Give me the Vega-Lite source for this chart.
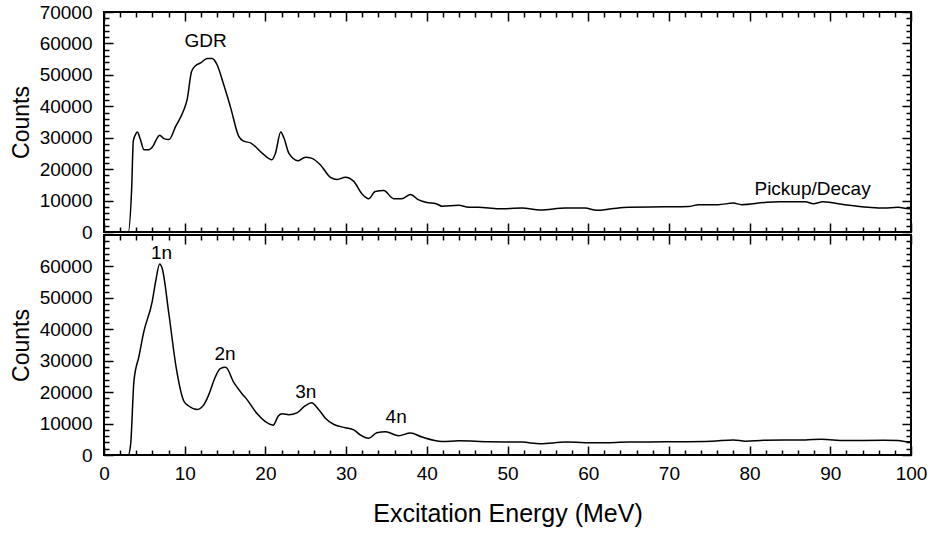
{
  "$schema": "https://vega.github.io/schema/vega-lite/v6.json",
  "autosize": "pad",
  "padding": {"left": 9, "top": 2, "right": 5, "bottom": 5},
  "spacing": 3,
  "bounds": "flush",
  "background": "white",
  "config": {
    "view": {"stroke": "black", "strokeWidth": 2},
    "axis": {
      "domain": false,
      "grid": false,
      "labelFlush": false,
      "labelOverlap": false,
      "tickColor": "black",
      "tickWidth": 1.5,
      "labelColor": "black",
      "labelFont": "Liberation Sans",
      "labelFontSize": 19,
      "titleFont": "Liberation Sans",
      "titleFontSize": 23,
      "titleFontWeight": "normal",
      "titleColor": "black"
    },
    "text": {"font": "Liberation Sans", "fontSize": 19, "color": "black"}
  },
  "datasets": {
    "top": [
      {"E": 0, "C": 0}, {"E": 3.0, "C": 0}, {"E": 3.43, "C": 14000}, {"E": 3.63, "C": 28900},
      {"E": 3.9, "C": 31000}, {"E": 4.13, "C": 31800}, {"E": 4.5, "C": 29500}, {"E": 4.95, "C": 26200},
      {"E": 5.57, "C": 26200}, {"E": 6.07, "C": 27300}, {"E": 6.5, "C": 29500}, {"E": 6.9, "C": 30800},
      {"E": 7.43, "C": 29700}, {"E": 8.05, "C": 29400}, {"E": 8.88, "C": 33600}, {"E": 9.9, "C": 38900},
      {"E": 10.3, "C": 42100}, {"E": 10.85, "C": 51100}, {"E": 11.35, "C": 52900}, {"E": 11.97, "C": 53800},
      {"E": 12.8, "C": 55200}, {"E": 13.4, "C": 55200}, {"E": 14.0, "C": 53300}, {"E": 14.83, "C": 46900},
      {"E": 15.7, "C": 39500}, {"E": 16.7, "C": 30400}, {"E": 17.3, "C": 28900}, {"E": 18.2, "C": 28300},
      {"E": 19.6, "C": 25100}, {"E": 20.8, "C": 23000}, {"E": 21.25, "C": 25100}, {"E": 21.9, "C": 31800},
      {"E": 22.3, "C": 29900}, {"E": 22.9, "C": 25100}, {"E": 24.06, "C": 22700}, {"E": 24.97, "C": 23800},
      {"E": 25.7, "C": 23500}, {"E": 26.8, "C": 21400}, {"E": 28.06, "C": 17400}, {"E": 28.9, "C": 16700},
      {"E": 29.9, "C": 17400}, {"E": 30.95, "C": 16100}, {"E": 31.98, "C": 12100}, {"E": 32.8, "C": 10600},
      {"E": 33.6, "C": 12900}, {"E": 34.67, "C": 13200}, {"E": 35.9, "C": 10600}, {"E": 36.9, "C": 10600},
      {"E": 37.97, "C": 11900}, {"E": 39.0, "C": 10200}, {"E": 40.0, "C": 9400}, {"E": 41.07, "C": 9100},
      {"E": 41.9, "C": 8200}, {"E": 43.95, "C": 8500}, {"E": 45.2, "C": 7900}, {"E": 46.4, "C": 7900},
      {"E": 48.9, "C": 7400}, {"E": 51.8, "C": 7600}, {"E": 54.06, "C": 7000}, {"E": 57.2, "C": 7600},
      {"E": 59.6, "C": 7600}, {"E": 61.07, "C": 6900}, {"E": 62.9, "C": 7400}, {"E": 65.0, "C": 7900},
      {"E": 69.5, "C": 8000}, {"E": 72.4, "C": 8100}, {"E": 73.7, "C": 8700}, {"E": 76.1, "C": 8700},
      {"E": 78.0, "C": 9200}, {"E": 79.0, "C": 8700}, {"E": 81.9, "C": 9400}, {"E": 83.6, "C": 9600},
      {"E": 86.9, "C": 9600}, {"E": 87.9, "C": 9000}, {"E": 89.1, "C": 9600}, {"E": 91.8, "C": 8700},
      {"E": 94.7, "C": 7900}, {"E": 96.6, "C": 7600}, {"E": 98.4, "C": 7900}, {"E": 99.7, "C": 7400},
      {"E": 100, "C": 7400}
    ],
    "bottom": [
      {"E": 0, "C": 0}, {"E": 3.0, "C": 0}, {"E": 3.3, "C": 3400}, {"E": 3.71, "C": 23500},
      {"E": 4.33, "C": 31400}, {"E": 4.95, "C": 39400}, {"E": 5.98, "C": 48900}, {"E": 6.4, "C": 55200},
      {"E": 6.9, "C": 60800}, {"E": 7.2, "C": 59500}, {"E": 8.05, "C": 44700}, {"E": 8.95, "C": 27700},
      {"E": 9.9, "C": 17100}, {"E": 10.5, "C": 15600}, {"E": 11.55, "C": 14500}, {"E": 12.4, "C": 16100},
      {"E": 13.0, "C": 19300}, {"E": 13.74, "C": 24500}, {"E": 14.4, "C": 27500}, {"E": 15.07, "C": 27900},
      {"E": 16.1, "C": 23000}, {"E": 17.1, "C": 19500}, {"E": 17.7, "C": 17700}, {"E": 18.98, "C": 13100},
      {"E": 20.0, "C": 10600}, {"E": 20.96, "C": 9500}, {"E": 21.6, "C": 12400}, {"E": 22.08, "C": 13100},
      {"E": 22.9, "C": 12800}, {"E": 23.9, "C": 13400}, {"E": 24.9, "C": 15600}, {"E": 25.7, "C": 16600},
      {"E": 26.6, "C": 14500}, {"E": 27.4, "C": 11800}, {"E": 28.5, "C": 9700}, {"E": 29.9, "C": 8700},
      {"E": 30.95, "C": 8000}, {"E": 31.8, "C": 6300}, {"E": 32.8, "C": 5300}, {"E": 33.8, "C": 7100},
      {"E": 34.9, "C": 7400}, {"E": 36.5, "C": 6100}, {"E": 37.97, "C": 7000}, {"E": 39.4, "C": 5700},
      {"E": 41.9, "C": 4300}, {"E": 44.0, "C": 4500}, {"E": 47.6, "C": 4200}, {"E": 51.8, "C": 4100},
      {"E": 54.06, "C": 3600}, {"E": 57.2, "C": 4100}, {"E": 61.0, "C": 3900}, {"E": 65.0, "C": 4100},
      {"E": 69.5, "C": 4200}, {"E": 75.3, "C": 4400}, {"E": 78.0, "C": 4800}, {"E": 79.5, "C": 4400},
      {"E": 81.9, "C": 4700}, {"E": 86.9, "C": 4800}, {"E": 88.9, "C": 5000}, {"E": 91.8, "C": 4600},
      {"E": 96.6, "C": 4700}, {"E": 98.4, "C": 4600}, {"E": 99.7, "C": 4200}, {"E": 100, "C": 4200}
    ],
    "labTop": [
      {"E": 12.6, "C": 60700, "t": "GDR"},
      {"E": 87.8, "C": 13800, "t": "Pickup/Decay"}
    ],
    "labBot": [
      {"E": 7.14, "C": 64200, "t": "1n"},
      {"E": 15.0, "C": 32000, "t": "2n"},
      {"E": 25.0, "C": 20000, "t": "3n"},
      {"E": 36.2, "C": 12100, "t": "4n"}
    ]
  },
  "vconcat": [
    {
      "width": 807,
      "height": 220,
      "resolve": {"axis": {"x": "independent", "y": "independent"}},
      "layer": [
        {
          "data": {"name": "top"},
          "mark": {"type": "line", "color": "black", "strokeWidth": 1.5, "interpolate": "monotone"},
          "encoding": {
            "x": {"field": "E", "type": "quantitative", "scale": {"domain": [0, 100]},
              "axis": {"orient": "bottom", "values": [0,10,20,30,40,50,60,70,80,90,100], "tickSize": -9, "labels": false, "title": null}},
            "y": {"field": "C", "type": "quantitative", "scale": {"domain": [0, 70000]},
              "axis": {"orient": "left", "values": [0,10000,20000,30000,40000,50000,60000,70000], "tickSize": -9, "labelPadding": 21, "format": "d", "title": "Counts", "titlePadding": 6}}
          }
        },
        {
          "data": {"name": "top"},
          "mark": {"type": "line", "opacity": 0},
          "encoding": {
            "x": {"field": "E", "type": "quantitative",
              "axis": {"orient": "top", "values": [0,10,20,30,40,50,60,70,80,90,100], "tickSize": -9, "labels": false, "title": null}},
            "y": {"field": "C", "type": "quantitative",
              "axis": {"orient": "right", "values": [0,10000,20000,30000,40000,50000,60000,70000], "tickSize": -9, "labels": false, "title": null}}
          }
        },
        {
          "data": {"name": "top"},
          "mark": {"type": "line", "opacity": 0},
          "encoding": {
            "x": {"field": "E", "type": "quantitative",
              "axis": {"orient": "bottom", "values": [2,4,6,8,12,14,16,18,22,24,26,28,32,34,36,38,42,44,46,48,52,54,56,58,62,64,66,68,72,74,76,78,82,84,86,88,92,94,96,98], "tickSize": -5, "labels": false, "title": null}},
            "y": {"field": "C", "type": "quantitative",
              "axis": {"orient": "left", "values": [2000,4000,6000,8000,12000,14000,16000,18000,22000,24000,26000,28000,32000,34000,36000,38000,42000,44000,46000,48000,52000,54000,56000,58000,62000,64000,66000,68000], "tickSize": -5, "labels": false, "title": null}}
          }
        },
        {
          "data": {"name": "top"},
          "mark": {"type": "line", "opacity": 0},
          "encoding": {
            "x": {"field": "E", "type": "quantitative",
              "axis": {"orient": "top", "values": [2,4,6,8,12,14,16,18,22,24,26,28,32,34,36,38,42,44,46,48,52,54,56,58,62,64,66,68,72,74,76,78,82,84,86,88,92,94,96,98], "tickSize": -5, "labels": false, "title": null}},
            "y": {"field": "C", "type": "quantitative",
              "axis": {"orient": "right", "values": [2000,4000,6000,8000,12000,14000,16000,18000,22000,24000,26000,28000,32000,34000,36000,38000,42000,44000,46000,48000,52000,54000,56000,58000,62000,64000,66000,68000], "tickSize": -5, "labels": false, "title": null}}
          }
        },
        {
          "data": {"name": "labTop"},
          "mark": {"type": "text", "baseline": "middle", "align": "center"},
          "encoding": {
            "x": {"field": "E", "type": "quantitative", "axis": null},
            "y": {"field": "C", "type": "quantitative", "axis": null},
            "text": {"field": "t"}
          }
        }
      ]
    },
    {
      "width": 807,
      "height": 220,
      "resolve": {"axis": {"x": "independent", "y": "independent"}},
      "layer": [
        {
          "data": {"name": "bottom"},
          "mark": {"type": "line", "color": "black", "strokeWidth": 1.5, "interpolate": "monotone"},
          "encoding": {
            "x": {"field": "E", "type": "quantitative", "scale": {"domain": [0, 100]},
              "axis": {"orient": "bottom", "values": [0,10,20,30,40,50,60,70,80,90,100], "tickSize": -9, "labelPadding": 18, "title": "Excitation Energy (MeV)", "titleFontSize": 25, "titlePadding": 18}},
            "y": {"field": "C", "type": "quantitative", "scale": {"domain": [0, 70000]},
              "axis": {"orient": "left", "values": [0,10000,20000,30000,40000,50000,60000], "tickSize": -9, "labelPadding": 21, "format": "d", "title": "Counts", "titlePadding": 6}}
          }
        },
        {
          "data": {"name": "bottom"},
          "mark": {"type": "line", "opacity": 0},
          "encoding": {
            "x": {"field": "E", "type": "quantitative",
              "axis": {"orient": "top", "values": [0,10,20,30,40,50,60,70,80,90,100], "tickSize": -9, "labels": false, "title": null}},
            "y": {"field": "C", "type": "quantitative",
              "axis": {"orient": "right", "values": [0,10000,20000,30000,40000,50000,60000], "tickSize": -9, "labels": false, "title": null}}
          }
        },
        {
          "data": {"name": "bottom"},
          "mark": {"type": "line", "opacity": 0},
          "encoding": {
            "x": {"field": "E", "type": "quantitative",
              "axis": {"orient": "bottom", "values": [2,4,6,8,12,14,16,18,22,24,26,28,32,34,36,38,42,44,46,48,52,54,56,58,62,64,66,68,72,74,76,78,82,84,86,88,92,94,96,98], "tickSize": -5, "labels": false, "title": null}},
            "y": {"field": "C", "type": "quantitative",
              "axis": {"orient": "left", "values": [2000,4000,6000,8000,12000,14000,16000,18000,22000,24000,26000,28000,32000,34000,36000,38000,42000,44000,46000,48000,52000,54000,56000,58000,62000,64000,66000,68000], "tickSize": -5, "labels": false, "title": null}}
          }
        },
        {
          "data": {"name": "bottom"},
          "mark": {"type": "line", "opacity": 0},
          "encoding": {
            "x": {"field": "E", "type": "quantitative",
              "axis": {"orient": "top", "values": [2,4,6,8,12,14,16,18,22,24,26,28,32,34,36,38,42,44,46,48,52,54,56,58,62,64,66,68,72,74,76,78,82,84,86,88,92,94,96,98], "tickSize": -5, "labels": false, "title": null}},
            "y": {"field": "C", "type": "quantitative",
              "axis": {"orient": "right", "values": [2000,4000,6000,8000,12000,14000,16000,18000,22000,24000,26000,28000,32000,34000,36000,38000,42000,44000,46000,48000,52000,54000,56000,58000,62000,64000,66000,68000], "tickSize": -5, "labels": false, "title": null}}
          }
        },
        {
          "data": {"name": "labBot"},
          "mark": {"type": "text", "baseline": "middle", "align": "center"},
          "encoding": {
            "x": {"field": "E", "type": "quantitative", "axis": null},
            "y": {"field": "C", "type": "quantitative", "axis": null},
            "text": {"field": "t"}
          }
        }
      ]
    }
  ]
}
